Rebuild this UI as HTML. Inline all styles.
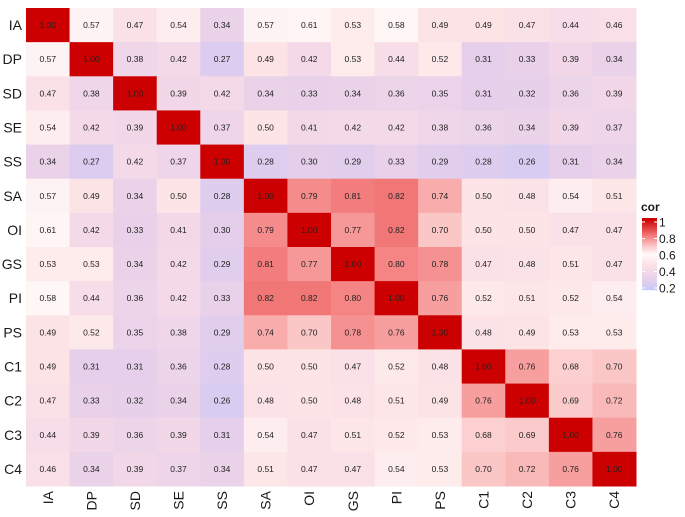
<!DOCTYPE html>
<html><head><meta charset="utf-8"><style>
body{margin:0;background:#fff}
svg{display:block;font-family:"Liberation Sans",sans-serif}
</style></head><body>
<svg id="chart" width="685" height="517" viewBox="0 0 685 517"></svg>
<script>
const labels = ["IA","DP","SD","SE","SS","SA","OI","GS","PI","PS","C1","C2","C3","C4"];
const rowIA = [1.00,0.57,0.47,0.54,0.34,0.57,0.61,0.53,0.58,0.49,0.49,0.47,0.44,0.46];
const rowDP = [0.57,1.00,0.38,0.42,0.27,0.49,0.42,0.53,0.44,0.52,0.31,0.33,0.39,0.34];
const rowSD = [0.47,0.38,1.00,0.39,0.42,0.34,0.33,0.34,0.36,0.35,0.31,0.32,0.36,0.39];
const rowSE = [0.54,0.42,0.39,1.00,0.37,0.50,0.41,0.42,0.42,0.38,0.36,0.34,0.39,0.37];
const rowSS = [0.34,0.27,0.42,0.37,1.00,0.28,0.30,0.29,0.33,0.29,0.28,0.26,0.31,0.34];
const rowSA = [0.57,0.49,0.34,0.50,0.28,1.00,0.79,0.81,0.82,0.74,0.50,0.48,0.54,0.51];
const rowOI = [0.61,0.42,0.33,0.41,0.30,0.79,1.00,0.77,0.82,0.70,0.50,0.50,0.47,0.47];
const rowGS = [0.53,0.53,0.34,0.42,0.29,0.81,0.77,1.00,0.80,0.78,0.47,0.48,0.51,0.47];
const rowPI = [0.58,0.44,0.36,0.42,0.33,0.82,0.82,0.80,1.00,0.76,0.52,0.51,0.52,0.54];
const rowPS = [0.49,0.52,0.35,0.38,0.29,0.74,0.70,0.78,0.76,1.00,0.48,0.49,0.53,0.53];
const rowC1 = [0.49,0.31,0.31,0.36,0.28,0.50,0.50,0.47,0.52,0.48,1.00,0.76,0.68,0.70];
const rowC2 = [0.47,0.33,0.32,0.34,0.26,0.48,0.50,0.48,0.51,0.49,0.76,1.00,0.69,0.72];
const rowC3 = [0.44,0.39,0.36,0.39,0.31,0.54,0.47,0.51,0.52,0.53,0.68,0.69,1.00,0.76];
const rowC4 = [0.46,0.34,0.39,0.37,0.34,0.51,0.47,0.47,0.54,0.53,0.70,0.72,0.76,1.00];
const legendTicks = [1,0.8,0.6,0.4,0.2];

const rows = [rowIA,rowDP,rowSD,rowSE,rowSS,rowSA,rowOI,rowGS,rowPI,rowPS,rowC1,rowC2,rowC3,rowC4];
const NS="http://www.w3.org/2000/svg";
const svg=document.getElementById('chart');
const L=26,T=8,R=636,B=486;
const cw=(R-L)/labels.length, ch=(B-T)/labels.length;
const xPos=i=>L+i*cw, yPos=i=>T+i*ch;
const stops=[[0.2,[200,200,252]],[0.3,[228,206,234]],[0.4,[242,216,232]],[0.5,[253,228,230]],[0.6,[255,250,250]],[0.7,[251,198,198]],[0.8,[245,132,132]],[1.0,[204,0,0]]];
function color(v){
  if(v<=stops[0][0])return 'rgb('+stops[0][1]+')';
  for(let k=1;k<stops.length;k++){if(v<=stops[k][0]){const a=stops[k-1],b=stops[k];const t=(v-a[0])/(b[0]-a[0]);
    return 'rgb('+a[1].map((c,j)=>Math.round(c+(b[1][j]-c)*t)).join(',')+')';}}
  return 'rgb(204,0,0)';
}
function mk(tag,attrs,txt){const e=document.createElementNS(NS,tag);for(const k in attrs)e.setAttribute(k,attrs[k]);if(txt!==undefined)e.textContent=txt;svg.appendChild(e);return e;}
rows.forEach((row,r)=>{row.forEach((v,c)=>{
  const rect=mk('rect',{x:xPos(c),y:yPos(r),width:cw+0.5,height:ch+0.5,fill:color(v)});
  
  
  const t=mk('text',{x:xPos(c)+cw/2,y:yPos(r)+ch/2+3,'text-anchor':'middle','font-size':'8.5',fill:'#222'},v.toFixed(2));
  
  
});});
labels.forEach((lab,i)=>{
  const t=mk('text',{x:22,y:yPos(i)+ch/2+5,'text-anchor':'end','font-size':'14',fill:'#1a1a1a'},lab);
  
  
  const cx=xPos(i)+cw/2+5, cy=B+5;
  const t2=mk('text',{x:cx,y:cy,'text-anchor':'end','font-size':'14',fill:'#1a1a1a',transform:'rotate(-90 '+cx+' '+cy+')'},lab);
  
  
});
// legend
const lt=mk('text',{x:641,y:211,'font-size':'12','font-weight':'bold',fill:'#1a1a1a'},'cor');


const ly=v=>222+(1-v)*82.5;
for(let k=0;k<72;k++){
  const v1=1.0125-k*(0.825/72);
  const r=mk('rect',{x:642,y:218+k,width:15,height:1.2,fill:color(v1)});
  
  
}
legendTicks.forEach(v=>{
  const y=ly(v);
  const a=mk('line',{x1:642,x2:645,y1:y,y2:y,stroke:'#fff','stroke-width':1});
  
  
  const b=mk('line',{x1:654,x2:657,y1:y,y2:y,stroke:'#fff','stroke-width':1});
  
  
  const t=mk('text',{x:659,y:y+4.5,'font-size':'12',fill:'#1a1a1a'},String(v));
  
  
});
</script>
</body></html>
